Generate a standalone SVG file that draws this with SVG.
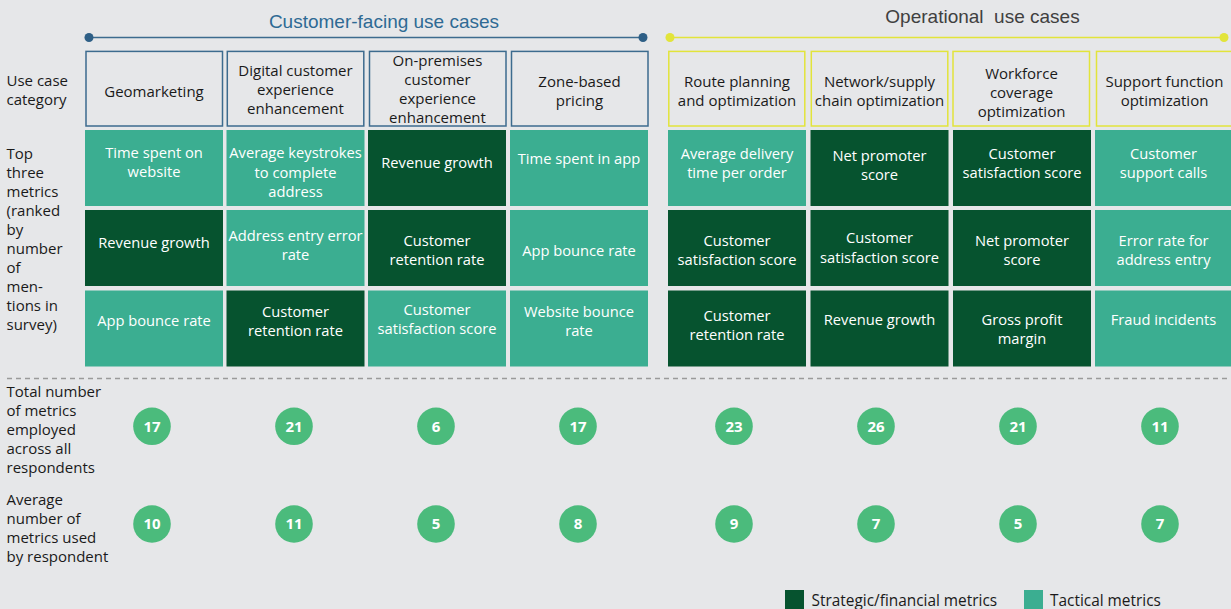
<svg xmlns="http://www.w3.org/2000/svg" width="1231" height="609" viewBox="0 0 1231 609">
<style>
  text { font-family: "Open Sans", "Noto Sans", sans-serif; font-size: 14.7px; }
  .hdr { fill: none; stroke-width: 1.5; }
  .hb { stroke: #3C6B8E; }
  .hy { stroke: #E2E43B; }
  .ht { fill: #1a1a1a; text-anchor: middle; font-size: 15px; }
  .dk { fill: #06532F; }
  .tl { fill: #3BAE91; }
  .ct { fill: #FFFFFF; text-anchor: middle; }
  .lbl { fill: #1a1a1a; font-size: 15px; }
  .leg { fill: #1a1a1a; font-size: 15.4px; }
  .circ { fill: #4BBB7C; }
  .num { fill: #FFFFFF; text-anchor: middle; font-weight: bold; font-size: 15px; }
  .title { font-family: "Liberation Sans", Arial, sans-serif; font-size: 19px; text-anchor: middle; }
</style>
<rect width="1231" height="609" fill="#E6E7E9"/>

<g id="section-titles">
  <text class="title" x="384" y="28.3" fill="#2E6A94">Customer-facing use cases</text>
  <text class="title" x="982.5" y="23.3" fill="#404040" xml:space="preserve">Operational  use cases</text>
</g>

<g id="connectors">
  <line x1="89" y1="37.5" x2="643" y2="37.5" stroke="#3C6B8E" stroke-width="1.5"/>
  <circle cx="89" cy="37.5" r="4.5" fill="#2E5F86"/>
  <circle cx="643" cy="37.5" r="4.5" fill="#2E5F86"/>
  <line x1="670" y1="37.5" x2="1224" y2="37.5" stroke="#E2E43B" stroke-width="1.5"/>
  <circle cx="670" cy="37.5" r="4.5" fill="#E2E43B"/>
  <circle cx="1224" cy="37.5" r="4.5" fill="#E2E43B"/>
  <line x1="7" y1="378.5" x2="1231" y2="378.5" stroke="#9A9A9A" stroke-width="1.3" stroke-dasharray="5 4"/>
</g>

<g id="row-labels">
  <text class="lbl" x="6.5" y="85.5">Use case</text>
  <text class="lbl" x="6.5" y="104.5">category</text>
  <text class="lbl" x="6.5" y="158.5">Top</text>
  <text class="lbl" x="6.5" y="177.6">three</text>
  <text class="lbl" x="6.5" y="196.7">metrics</text>
  <text class="lbl" x="6.5" y="215.8">(ranked</text>
  <text class="lbl" x="6.5" y="234.9">by</text>
  <text class="lbl" x="6.5" y="254">number</text>
  <text class="lbl" x="6.5" y="273.1">of</text>
  <text class="lbl" x="6.5" y="292.2">men-</text>
  <text class="lbl" x="6.5" y="311.3">tions in</text>
  <text class="lbl" x="6.5" y="330.4">survey)</text>
  <text class="lbl" x="6.5" y="396.7">Total number</text>
  <text class="lbl" x="6.5" y="415.8">of metrics</text>
  <text class="lbl" x="6.5" y="434.9">employed</text>
  <text class="lbl" x="6.5" y="454">across all</text>
  <text class="lbl" x="6.5" y="473.1">respondents</text>
  <text class="lbl" x="6.5" y="505">Average</text>
  <text class="lbl" x="6.5" y="524">number of</text>
  <text class="lbl" x="6.5" y="543">metrics used</text>
  <text class="lbl" x="6.5" y="562">by respondent</text>
</g>

<!-- Column 1 -->
<g id="col-geomarketing">
  <rect class="hdr hb" x="86" y="51.4" width="136.5" height="74.6"/>
  <text class="ht" x="154" y="97">Geomarketing</text>
  <rect class="tl" x="85" y="130" width="138" height="76"/>
  <text class="ct" x="154" y="158.3">Time spent on</text>
  <text class="ct" x="154" y="177.3">website</text>
  <rect class="dk" x="85" y="210" width="138" height="76"/>
  <text class="ct" x="154" y="248">Revenue growth</text>
  <rect class="tl" x="85" y="290.5" width="138" height="76"/>
  <text class="ct" x="154" y="325.5">App bounce rate</text>
  <circle class="circ" cx="152" cy="426.3" r="18.8"/>
  <text class="num" x="152" y="431.6">17</text>
  <circle class="circ" cx="152" cy="524" r="18.8"/>
  <text class="num" x="152" y="529.3">10</text>
</g>

<!-- Column 2 -->
<g id="col-digital">
  <rect class="hdr hb" x="227.3" y="51.4" width="136.5" height="74.6"/>
  <text class="ht" x="295.5" y="75.5">Digital customer</text>
  <text class="ht" x="295.5" y="94.5">experience</text>
  <text class="ht" x="295.5" y="113.5">enhancement</text>
  <rect class="tl" x="226.5" y="130" width="138" height="76"/>
  <text class="ct" x="295.5" y="158.4">Average keystrokes</text>
  <text class="ct" x="295.5" y="177.7">to complete</text>
  <text class="ct" x="295.5" y="197">address</text>
  <rect class="tl" x="226.5" y="210" width="138" height="76"/>
  <text class="ct" x="295.5" y="240.5">Address entry error</text>
  <text class="ct" x="295.5" y="260">rate</text>
  <rect class="dk" x="226.5" y="290.5" width="138" height="76"/>
  <text class="ct" x="295.5" y="316.5">Customer</text>
  <text class="ct" x="295.5" y="335.5">retention rate</text>
  <circle class="circ" cx="294" cy="426.3" r="18.8"/>
  <text class="num" x="294" y="431.6">21</text>
  <circle class="circ" cx="294" cy="524" r="18.8"/>
  <text class="num" x="294" y="529.3">11</text>
</g>

<!-- Column 3 -->
<g id="col-onpremises">
  <rect class="hdr hb" x="369.5" y="51.4" width="136.5" height="74.6"/>
  <text class="ht" x="437.5" y="65.5">On-premises</text>
  <text class="ht" x="437.5" y="84.5">customer</text>
  <text class="ht" x="437.5" y="103.5">experience</text>
  <text class="ht" x="437.5" y="122.5">enhancement</text>
  <rect class="dk" x="368" y="130" width="138" height="76"/>
  <text class="ct" x="437" y="168">Revenue growth</text>
  <rect class="dk" x="368" y="210" width="138" height="76"/>
  <text class="ct" x="437" y="245.5">Customer</text>
  <text class="ct" x="437" y="264.5">retention rate</text>
  <rect class="tl" x="368" y="290.5" width="138" height="76"/>
  <text class="ct" x="437" y="314.5">Customer</text>
  <text class="ct" x="437" y="334">satisfaction score</text>
  <circle class="circ" cx="436" cy="426.3" r="18.8"/>
  <text class="num" x="436" y="431.6">6</text>
  <circle class="circ" cx="436" cy="524" r="18.8"/>
  <text class="num" x="436" y="529.3">5</text>
</g>

<!-- Column 4 -->
<g id="col-zone">
  <rect class="hdr hb" x="511.5" y="51.4" width="136.5" height="74.6"/>
  <text class="ht" x="579.5" y="86.5">Zone-based</text>
  <text class="ht" x="579.5" y="105.5">pricing</text>
  <rect class="tl" x="510" y="130" width="138" height="76"/>
  <text class="ct" x="579" y="164">Time spent in app</text>
  <rect class="tl" x="510" y="210" width="138" height="76"/>
  <text class="ct" x="579" y="255.5">App bounce rate</text>
  <rect class="tl" x="510" y="290.5" width="138" height="76"/>
  <text class="ct" x="579" y="316.5">Website bounce</text>
  <text class="ct" x="579" y="335.5">rate</text>
  <circle class="circ" cx="578" cy="426.3" r="18.8"/>
  <text class="num" x="578" y="431.6">17</text>
  <circle class="circ" cx="578" cy="524" r="18.8"/>
  <text class="num" x="578" y="529.3">8</text>
</g>

<!-- Column 5 -->
<g id="col-route">
  <rect class="hdr hy" x="668.8" y="51.4" width="136" height="74.6"/>
  <text class="ht" x="737" y="86.5">Route planning</text>
  <text class="ht" x="737" y="105.5">and optimization</text>
  <rect class="tl" x="668" y="130" width="138" height="76"/>
  <text class="ct" x="737" y="158.5">Average delivery</text>
  <text class="ct" x="737" y="178">time per order</text>
  <rect class="dk" x="668" y="210" width="138" height="76"/>
  <text class="ct" x="737" y="245.5">Customer</text>
  <text class="ct" x="737" y="264.5">satisfaction score</text>
  <rect class="dk" x="668" y="290.5" width="138" height="76"/>
  <text class="ct" x="737" y="320.5">Customer</text>
  <text class="ct" x="737" y="340">retention rate</text>
  <circle class="circ" cx="734" cy="426.3" r="18.8"/>
  <text class="num" x="734" y="431.6">23</text>
  <circle class="circ" cx="734" cy="524" r="18.8"/>
  <text class="num" x="734" y="529.3">9</text>
</g>

<!-- Column 6 -->
<g id="col-network">
  <rect class="hdr hy" x="811.3" y="51.4" width="136.5" height="74.6"/>
  <text class="ht" x="879.5" y="86.5">Network/supply</text>
  <text class="ht" x="879.5" y="105.5">chain optimization</text>
  <rect class="dk" x="810.5" y="130" width="138" height="76"/>
  <text class="ct" x="879.5" y="161">Net promoter</text>
  <text class="ct" x="879.5" y="180">score</text>
  <rect class="dk" x="810.5" y="210" width="138" height="76"/>
  <text class="ct" x="879.5" y="243">Customer</text>
  <text class="ct" x="879.5" y="263">satisfaction score</text>
  <rect class="dk" x="810.5" y="290.5" width="138" height="76"/>
  <text class="ct" x="879.5" y="325">Revenue growth</text>
  <circle class="circ" cx="876" cy="426.3" r="18.8"/>
  <text class="num" x="876" y="431.6">26</text>
  <circle class="circ" cx="876" cy="524" r="18.8"/>
  <text class="num" x="876" y="529.3">7</text>
</g>

<!-- Column 7 -->
<g id="col-workforce">
  <rect class="hdr hy" x="953" y="51.4" width="136.5" height="74.6"/>
  <text class="ht" x="1021.5" y="79">Workforce</text>
  <text class="ht" x="1021.5" y="98">coverage</text>
  <text class="ht" x="1021.5" y="117">optimization</text>
  <rect class="dk" x="953" y="130" width="138" height="76"/>
  <text class="ct" x="1022" y="158.5">Customer</text>
  <text class="ct" x="1022" y="177.5">satisfaction score</text>
  <rect class="dk" x="953" y="210" width="138" height="76"/>
  <text class="ct" x="1022" y="245.5">Net promoter</text>
  <text class="ct" x="1022" y="265">score</text>
  <rect class="dk" x="953" y="290.5" width="138" height="76"/>
  <text class="ct" x="1022" y="325">Gross profit</text>
  <text class="ct" x="1022" y="344">margin</text>
  <circle class="circ" cx="1018" cy="426.3" r="18.8"/>
  <text class="num" x="1018" y="431.6">21</text>
  <circle class="circ" cx="1018" cy="524" r="18.8"/>
  <text class="num" x="1018" y="529.3">5</text>
</g>

<!-- Column 8 -->
<g id="col-support">
  <rect class="hdr hy" x="1096.5" y="51.4" width="138" height="74.6"/>
  <text class="ht" x="1164.5" y="86.5">Support function</text>
  <text class="ht" x="1164.5" y="105.5">optimization</text>
  <rect class="tl" x="1095" y="130" width="138" height="76"/>
  <text class="ct" x="1163.5" y="158.5">Customer</text>
  <text class="ct" x="1163.5" y="177.5">support calls</text>
  <rect class="tl" x="1095" y="210" width="138" height="76"/>
  <text class="ct" x="1163.5" y="245.5">Error rate for</text>
  <text class="ct" x="1163.5" y="264.5">address entry</text>
  <rect class="tl" x="1095" y="290.5" width="138" height="76"/>
  <text class="ct" x="1163.5" y="325">Fraud incidents</text>
  <circle class="circ" cx="1160" cy="426.3" r="18.8"/>
  <text class="num" x="1160" y="431.6">11</text>
  <circle class="circ" cx="1160" cy="524" r="18.8"/>
  <text class="num" x="1160" y="529.3">7</text>
</g>

<g id="legend">
  <rect class="dk" x="785" y="590" width="19" height="19"/>
  <text class="leg" x="811.5" y="605.7">Strategic/financial metrics</text>
  <rect class="tl" x="1024" y="590" width="19" height="19"/>
  <text class="leg" x="1050" y="605.7">Tactical metrics</text>
</g>
</svg>
